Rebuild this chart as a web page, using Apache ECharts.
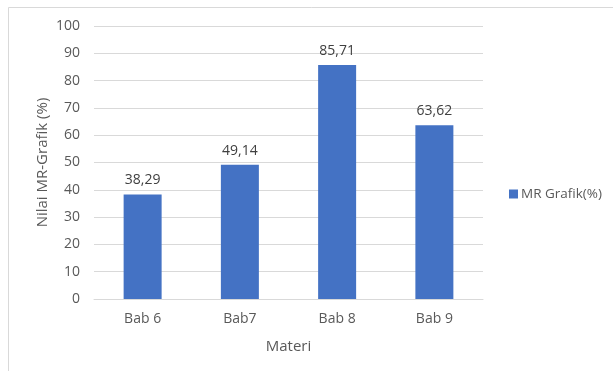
<!DOCTYPE html>
<html>
<head>
<meta charset="utf-8">
<script src="https://cdn.jsdelivr.net/npm/echarts@6/dist/echarts.min.js"></script>
<style>
  html, body { margin: 0; padding: 0; background: #ffffff; }
  #chart { width: 613px; height: 371px; }
</style>
</head>
<body>
<div id="chart"></div>
<script>
// Chapters and their MR-Grafik scores
const categories = ['Bab 6', 'Bab7', 'Bab 8', 'Bab 9'];
const mrGrafik = [38.29, 49.14, 85.71, 63.62];
const seriesName = 'MR Grafik(%)';

const FONT = '"Open Sans", sans-serif';
const chart = echarts.init(document.getElementById('chart'), null, { renderer: 'canvas' });

chart.setOption({
  backgroundColor: '#ffffff',
  animation: false,
  textStyle: { fontFamily: FONT },
  graphic: [{
    type: 'rect',
    shape: { x: 8.5, y: 7.5, width: 700, height: 400 },
    style: { fill: 'none', stroke: '#d9d9d9', lineWidth: 1 },
    silent: true,
    z: -1
  }],
  grid: { left: 94, right: 130, top: 26, bottom: 72, containLabel: false },
  legend: {
    data: [seriesName],
    orient: 'vertical',
    left: 504,
    top: 182,
    itemWidth: 9,
    itemHeight: 9,
    itemGap: 4,
    icon: 'rect',
    textStyle: { fontFamily: FONT, fontSize: 13.5, color: '#595959', padding: [0, 0, 0, -2] }
  },
  xAxis: {
    type: 'category',
    data: categories,
    name: 'Materi',
    nameLocation: 'middle',
    nameGap: 40,
    nameMoveOverlap: false,
    nameTextStyle: { fontFamily: FONT, fontSize: 15, color: '#595959' },
    axisLine: { show: true, lineStyle: { color: '#d9d9d9', width: 1 } },
    axisTick: { show: false },
    axisLabel: { margin: 13, fontFamily: FONT, fontSize: 14, color: '#595959' }
  },
  yAxis: {
    type: 'value',
    min: 0,
    max: 100,
    interval: 10,
    name: 'Nilai MR-Grafik (%)',
    nameLocation: 'middle',
    nameGap: 44,
    nameMoveOverlap: false,
    nameRotate: 90,
    nameTextStyle: { fontFamily: FONT, fontSize: 15, color: '#595959' },
    axisLine: { show: false },
    axisTick: { show: false },
    axisLabel: { margin: 14, fontFamily: FONT, fontSize: 14, color: '#595959' },
    splitLine: { show: true, lineStyle: { color: '#d9d9d9', width: 1 } }
  },
  series: [{
    name: seriesName,
    type: 'bar',
    data: mrGrafik,
    barWidth: 38,
    itemStyle: { color: '#4472c4' },
    label: {
      show: true,
      position: 'top',
      distance: 7,
      fontFamily: FONT,
      fontSize: 14,
      color: '#404040',
      formatter: p => p.value.toFixed(2).replace('.', ',')
    }
  }]
});
</script>
</body>
</html>
